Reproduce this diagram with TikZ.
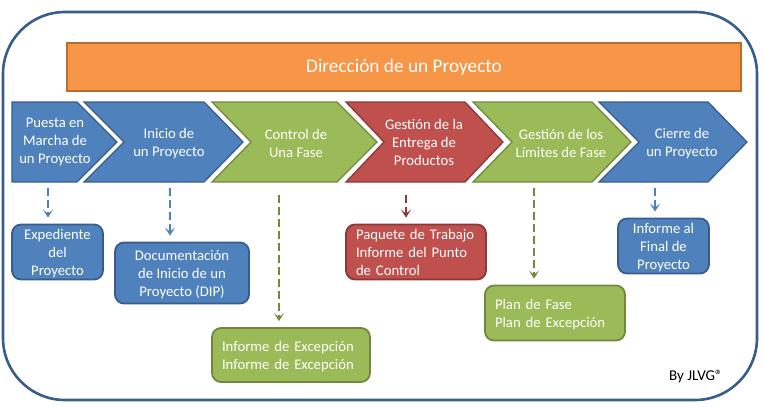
\documentclass[tikz,border=0pt]{standalone}
\usepackage{fontspec}
\setmainfont{Carlito}
\usetikzlibrary{arrows.meta}
\definecolor{azul}{HTML}{4F81BD}
\definecolor{azulb}{HTML}{385D8A}
\definecolor{verde}{HTML}{9BBB59}
\definecolor{verdeb}{HTML}{71893F}
\definecolor{rojo}{HTML}{C0504D}
\definecolor{rojob}{HTML}{8C3836}
\definecolor{naranja}{HTML}{F79646}
\definecolor{naranjab}{HTML}{B66D31}
\tikzset{
  tinta/.style={text=white,font=\fontsize{14.7}{18}\selectfont,align=center},
  flechazul/.style={azul,line width=2pt,dash pattern=on 8pt off 4pt,-{Stealth[length=8pt,width=10pt,inset=4pt]}},
  flechaverde/.style={flechazul,verdeb},
  flecharoja/.style={flechazul,rojob},
  chevazul/.style={fill=azul,draw=azulb,line width=1.3pt},
  chevverde/.style={fill=verde,draw=verdeb,line width=1.3pt},
  chevrojo/.style={fill=rojo,draw=rojob,line width=1.3pt},
  caja/.style={tinta,rounded corners=9pt,line width=1.8pt,inner xsep=10pt,inner ysep=0pt},
  cajazul/.style={caja,fill=azul,draw=azulb,text depth=0pt},
  cajaverde/.style={caja,fill=verde,draw=verdeb,text depth=18pt},
  cajaroja/.style={caja,fill=rojo,draw=rojob,text depth=36pt}
}
\begin{document}
\begin{tikzpicture}[x=1pt,y=-1pt]
  \useasboundingbox (0,0) rectangle (764,407);
  \draw [azulb,line width=2.6pt,rounded corners=62pt] (3,12) rectangle (757,400);
  \node (direccion) [tinta,fill=naranja,draw=naranjab,line width=1.8pt,minimum width=674pt,minimum height=48pt,font=\fontsize{19.3}{22}\selectfont] at (404,67) {Dirección de un Proyecto};
  % las fases
  \draw [chevazul] (12,102) -- (77,102) -- (117,142) -- (77,182) -- (12,182) -- cycle;
  \draw [chevazul] (84,102) -- (204,102) -- (243,142) -- (204,182) -- (84,182) -- (124,142) -- cycle;
  \draw [chevverde] (212,102) -- (337,102) -- (377,142) -- (337,182) -- (212,182) -- (251,142) -- cycle;
  \draw [chevrojo] (346,102) -- (465,102) -- (503,142) -- (465,182) -- (346,182) -- (384,142) -- cycle;
  \draw [chevverde] (473,102) -- (592,102) -- (631,142) -- (592,182) -- (473,182) -- (512,142) -- cycle;
  \draw [chevazul] (599,102) -- (708,102) -- (747,142) -- (708,182) -- (599,182) -- (639,142) -- cycle;
  \node (puesta) [tinta] at (55,142) {Puesta en\\Marcha de\\un Proyecto};
  \node (inicio) [tinta] at (169,143.5) {Inicio de\\un Proyecto};
  \node (control) [tinta] at (296,143.5) {Control de\\Una Fase};
  \node (gestion) [tinta] at (424,142) {Gestión de la\\Entrega de\\Productos};
  \node (limites) [tinta] at (561,143.5) {Gestión de los\\Límites de Fase};
  \node (cierre) [tinta] at (682,143.5) {Cierre de\\un Proyecto};
  % los productos
  \node (expediente) [cajazul,minimum width=91pt,minimum height=55pt] at (57.5,252) {Expediente\\del\\Proyecto};
  \node (dip) [cajazul,minimum width=134pt,minimum height=61pt] at (182,273) {Documentación\\de Inicio de un\\Proyecto (DIP)};
  \node (excepcion) [cajaverde,text width=138pt,minimum height=54pt,align=left] at (291,355) {Informe de Excepción\\Informe de Excepción};
  \node (paquete) [cajaroja,text width=120pt,minimum height=55pt,align=left] at (416,252) {Paquete de Trabajo\\Informe del Punto\\de Control};
  \node (plan) [cajaverde,text width=120pt,minimum height=55pt,align=left] at (555,313) {Plan de Fase\\Plan de Excepción};
  \node (final) [cajazul,minimum width=91pt,minimum height=55pt] at (663.5,246) {Informe al\\Final de\\Proyecto};
  \node (firma) [font=\fontsize{15}{17}\selectfont] at (696,377) {By JLVG®};
  % las flechas
  \coordinate (s1) at (48,188);
  \coordinate (s2) at (170,188);
  \coordinate (s3) at (279,195);
  \coordinate (s4) at (406,195);
  \coordinate (s5) at (534,188);
  \coordinate (s6) at (655,188);
  \draw [flechazul,shorten >=6pt] (s1) -- (s1 |- expediente.north);
  \draw [flechazul,shorten >=6pt] (s2) -- (s2 |- dip.north);
  \draw [flechaverde,shorten >=6pt] (s3) -- (s3 |- excepcion.north);
  \draw [flecharoja,shorten >=6pt] (s4) -- (s4 |- paquete.north);
  \draw [flechaverde,shorten >=6pt] (s5) -- (s5 |- plan.north);
  \draw [flechazul,shorten >=6pt] (s6) -- (s6 |- final.north);
\end{tikzpicture}
\end{document}
